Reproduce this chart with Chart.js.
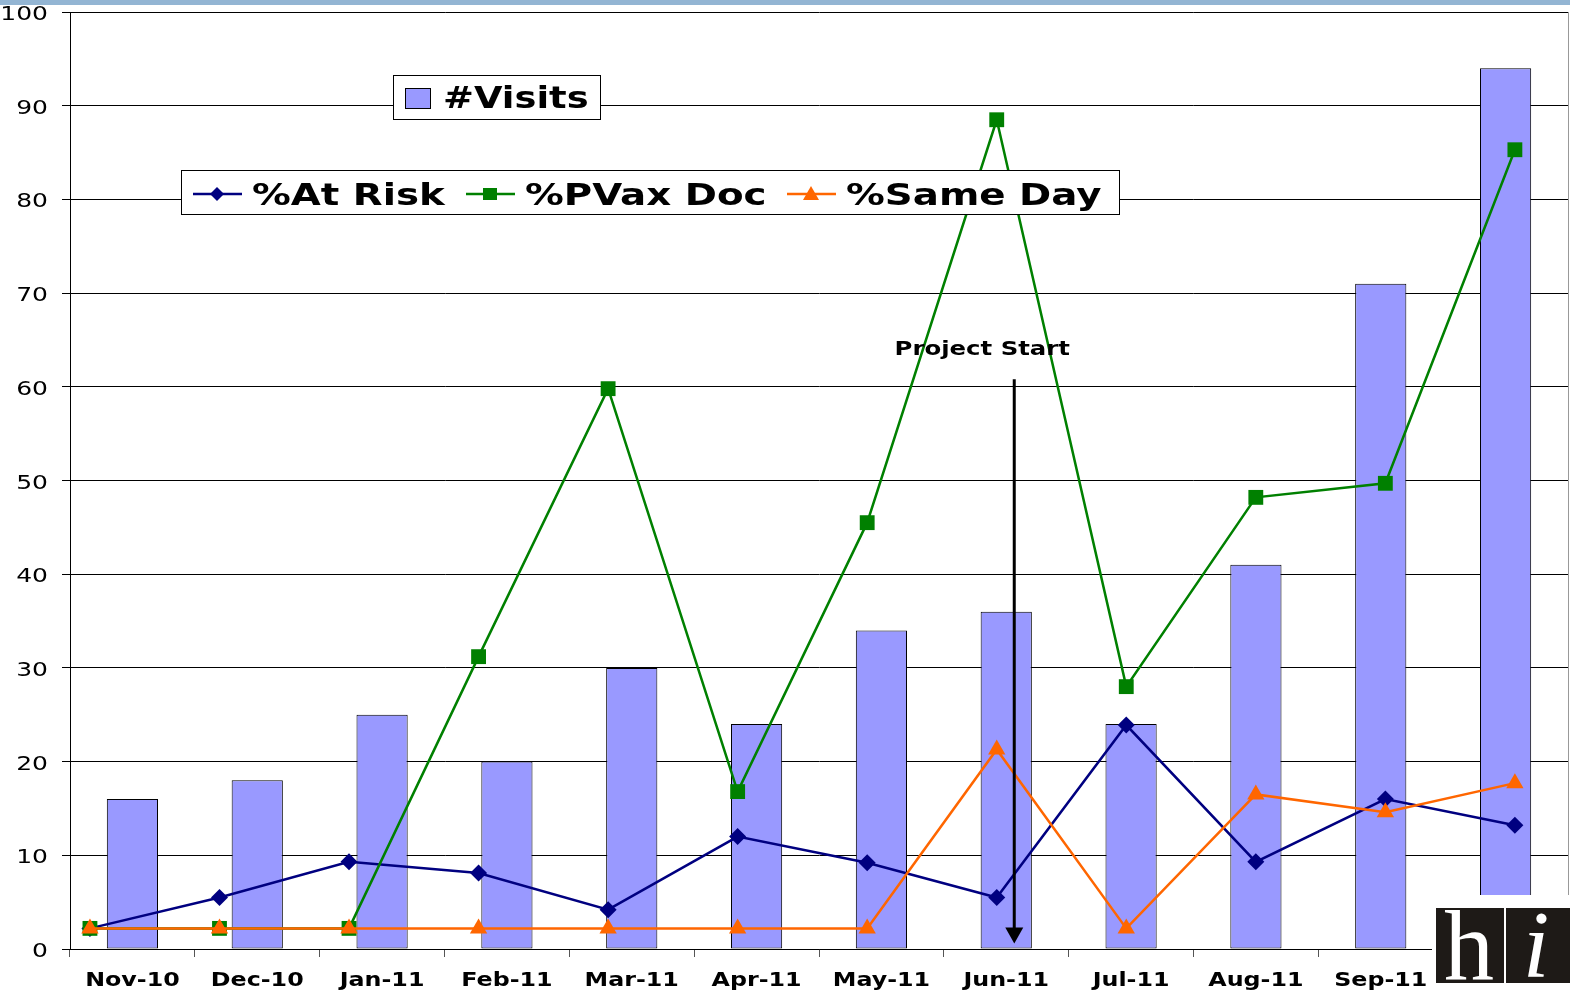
<!DOCTYPE html>
<html>
<head>
<meta charset="utf-8">
<script src="https://cdn.jsdelivr.net/npm/chart.js@4/dist/chart.umd.min.js"></script>
<style>
  html, body { margin: 0; padding: 0; background: #fff; }
  canvas { display: block; }
</style>
</head>
<body>
<canvas id="graph" width="1570" height="992"></canvas>
<script>
// data
const months = ['Nov-10', 'Dec-10', 'Jan-11', 'Feb-11', 'Mar-11', 'Apr-11', 'May-11', 'Jun-11', 'Jul-11', 'Aug-11', 'Sep-11', 'Oct-11'];
const visits = [16, 18, 25, 20, 30, 24, 34, 36, 24, 41, 71, 94];
const atRisk = [2.2, 5.5, 9.3, 8.1, 4.2, 12.0, 9.2, 5.5, 23.9, 9.3, 16.0, 13.2];
const pvaxDoc = [2.2, 2.2, 2.2, 31.2, 59.8, 16.8, 45.5, 88.5, 28.0, 48.2, 49.7, 85.3];
const sameDay = [2.2, 2.2, 2.2, 2.2, 2.2, 2.2, 2.2, 21.3, 2.2, 16.5, 14.6, 17.7];
const yTicks = [0, 10, 20, 30, 40, 50, 60, 70, 80, 90, 100];
const projectStart = 'Jun-11';

const FONT = '"DejaVu Sans", Verdana, sans-serif';
const SX = 1.25; // the original text is drawn wide

function wideText(ctx, text, x, y, size, align, weight) {
    ctx.save();
    ctx.font = (weight || 'bold') + ' ' + size + 'px ' + FONT;
    ctx.fillStyle = '#000';
    ctx.textBaseline = 'alphabetic';
    ctx.translate(x, y);
    ctx.scale(SX, 1);
    ctx.textAlign = align || 'left';
    ctx.fillText(text, 0, 0);
    ctx.restore();
}

function marker(ctx, style, x, y, color) {
    ctx.save();
    ctx.fillStyle = color;
    ctx.beginPath();
    if (style === 'rectRot') {
        ctx.moveTo(x, y - 7); ctx.lineTo(x + 7, y); ctx.lineTo(x, y + 7); ctx.lineTo(x - 7, y);
    } else if (style === 'rect') {
        ctx.rect(x - 7, y - 6, 14, 12);
    } else {
        ctx.moveTo(x, y - 8); ctx.lineTo(x + 8, y + 6); ctx.lineTo(x - 8, y + 6);
    }
    ctx.closePath();
    ctx.fill();
    ctx.restore();
}

function pts(vals) {
    return vals.map((v, i) => ({ x: i, y: v }));
}

const extras = {
    id: 'extras',
    beforeDraw(chart) {
        const ctx = chart.ctx;
        ctx.save();
        ctx.fillStyle = '#fff';
        ctx.fillRect(0, 0, chart.width, chart.height);
        ctx.fillStyle = '#93b5d3';
        ctx.fillRect(0, 0, chart.width, 5);
        ctx.restore();
    },
    afterDatasetsDraw(chart) {
        const ctx = chart.ctx;
        const a = chart.chartArea;
        const xs = chart.scales.x;
        const ys = chart.scales.y;

        // right border of the plot
        ctx.save();
        ctx.strokeStyle = '#999';
        ctx.lineWidth = 1;
        ctx.beginPath();
        ctx.moveTo(a.right + 0.5, a.top);
        ctx.lineTo(a.right + 0.5, a.bottom);
        ctx.stroke();
        ctx.restore();

        // axis labels
        months.forEach((m, i) => {
            wideText(ctx, m, xs.getPixelForValue(i), 986, 19, 'center');
        });
        yTicks.forEach(v => {
            wideText(ctx, String(v), 48, ys.getPixelForValue(v) + 8, 20, 'right', 'normal');
        });

        // project start arrow
        const ax = xs.getPixelForValue(months.indexOf(projectStart)) + 8;
        wideText(ctx, 'Project Start', ax - 32, 355, 19.5, 'center');
        ctx.save();
        ctx.strokeStyle = '#000';
        ctx.fillStyle = '#000';
        ctx.lineWidth = 3;
        ctx.beginPath();
        ctx.moveTo(ax, ys.getPixelForValue(60.8));
        ctx.lineTo(ax, ys.getPixelForValue(1.5));
        ctx.stroke();
        ctx.beginPath();
        ctx.moveTo(ax - 9, ys.getPixelForValue(2.3));
        ctx.lineTo(ax + 9, ys.getPixelForValue(2.3));
        ctx.lineTo(ax, ys.getPixelForValue(0.6));
        ctx.closePath();
        ctx.fill();
        ctx.restore();

        // legend boxes
        ctx.save();
        ctx.fillStyle = '#fff';
        ctx.strokeStyle = '#000';
        ctx.lineWidth = 1;
        ctx.fillRect(393, 75, 207, 44);
        ctx.strokeRect(393.5, 75.5, 207, 44);
        ctx.fillRect(181, 170, 938, 44);
        ctx.strokeRect(181.5, 170.5, 938, 44);
        ctx.fillStyle = '#9999ff';
        ctx.fillRect(405, 88, 25, 20);
        ctx.strokeRect(405.5, 88.5, 25, 20);
        ctx.restore();
        wideText(ctx, '#Visits', 443, 108, 29.5);

        const items = [
            { label: '%At Risk', color: '#000080', style: 'rectRot', x: 193 },
            { label: '%PVax Doc', color: '#008000', style: 'rect', x: 466 },
            { label: '%Same Day', color: '#ff6600', style: 'triangle', x: 787 }
        ];
        items.forEach(it => {
            ctx.save();
            ctx.strokeStyle = it.color;
            ctx.lineWidth = 2.5;
            ctx.beginPath();
            ctx.moveTo(it.x, 194);
            ctx.lineTo(it.x + 49, 194);
            ctx.stroke();
            ctx.restore();
            marker(ctx, it.style, it.x + 24, 194, it.color);
            wideText(ctx, it.label, it.x + 59, 205, 31);
        });

        // logo
        ctx.save();
        ctx.fillStyle = '#fff';
        ctx.fillRect(1432, 895, 140, 97);
        ctx.fillStyle = '#1e1a17';
        ctx.fillRect(1436, 908, 68, 75);
        ctx.fillRect(1506, 908, 64, 75);
        ctx.fillStyle = '#fff';
        ctx.textAlign = 'center';
        ctx.textBaseline = 'alphabetic';
        ctx.font = '100px "Liberation Serif", serif';
        ctx.fillText('h', 1469, 979);
        ctx.font = 'italic 96px "Liberation Serif", serif';
        ctx.fillText('i', 1536, 977);
        ctx.restore();
    }
};

const ctx = document.getElementById('graph').getContext('2d');
const lineStyle = (label, vals, color, style, radius, order) => ({
    type: 'line',
    label: label,
    data: pts(vals),
    xAxisID: 'x2',
    yAxisID: 'y',
    borderColor: color,
    backgroundColor: color,
    borderWidth: 2.5,
    pointStyle: style,
    pointRadius: radius,
    pointBorderWidth: 0,
    tension: 0,
    order: order
});

const chart = new Chart(ctx, {
    type: 'bar',
    data: {
        labels: months,
        datasets: [
            lineStyle('%Same Day', sameDay, '#ff6600', 'triangle', 10, 1),
            lineStyle('%PVax Doc', pvaxDoc, '#008000', 'rect', 10.5, 2),
            lineStyle('%At Risk', atRisk, '#000080', 'rectRot', 8.5, 3),
            {
                label: '#Visits',
                data: visits,
                xAxisID: 'x',
                yAxisID: 'y',
                grouped: false,
                backgroundColor: '#9999ff',
                borderColor: '#000',
                borderWidth: 1,
                borderSkipped: false,
                barPercentage: 0.41,
                categoryPercentage: 1,
                order: 4
            }
        ]
    },
    options: {
        responsive: false,
        animation: false,
        devicePixelRatio: 1,
        layout: { autoPadding: false, padding: { top: 12, right: 2, left: 0, bottom: 0 } },
        plugins: { legend: { display: false }, tooltip: { enabled: false } },
        scales: {
            x: {
                ticks: { color: 'rgba(0,0,0,0)', font: { size: 2, family: FONT } },
                grid: { offset: true, drawOnChartArea: false, tickLength: 8, color: '#555' },
                border: { display: true, color: '#000' },
                afterFit: s => { s.height = 43; }
            },
            x2: {
                type: 'linear',
                axis: 'x',
                position: 'bottom',
                display: false,
                offset: false,
                grid: { offset: false },
                min: -0.154,
                max: 11.41
            },
            y: {
                min: 0,
                max: 100,
                afterBuildTicks: s => { s.ticks = yTicks.map(v => ({ value: v })); },
                ticks: { color: 'rgba(0,0,0,0)', padding: 0, font: { size: 2, family: FONT } },
                grid: { color: '#000', lineWidth: 1, tickLength: 8 },
                border: { display: true, color: '#000' },
                afterFit: s => { s.width = 70; }
            }
        }
    },
    plugins: [extras]
});
</script>
</body>
</html>
